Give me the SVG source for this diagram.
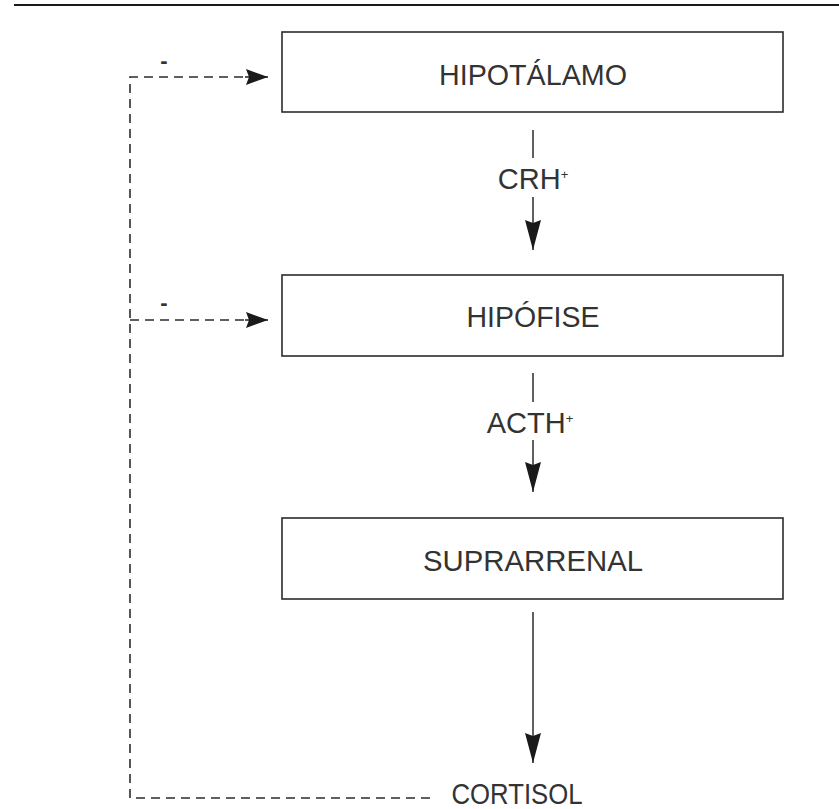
<svg xmlns="http://www.w3.org/2000/svg" width="839" height="809" viewBox="0 0 839 809">
  <style>
    .box { fill: #ffffff; stroke: #2b2b2b; stroke-width: 1.6; }
    .lbl { font-family: "Liberation Sans", Arial, sans-serif; font-size: 29px; fill: #333333; text-anchor: middle; }
    .sup { font-size: 13px; }
    .minus { font-family: "Liberation Sans", Arial, sans-serif; font-size: 22px; font-weight: bold; fill: #333333; text-anchor: middle; }
    .solid { fill: none; stroke: #2b2b2b; stroke-width: 1.5; }
    .dash { fill: none; stroke: #2b2b2b; stroke-width: 1.6; stroke-dasharray: 9 6; }
  </style>
  <defs>
    <marker id="arr" viewBox="0 0 30 16" refX="30" refY="8" markerWidth="30" markerHeight="16" markerUnits="userSpaceOnUse" orient="auto">
      <path d="M0,0 L30,8 L0,16 L3,8 Z" fill="#1a1a1a"/>
    </marker>
    <marker id="arrh" viewBox="0 0 22 16" refX="22" refY="8" markerWidth="22" markerHeight="16" markerUnits="userSpaceOnUse" orient="auto">
      <path d="M0,0 L22,8 L0,16 L3,8 Z" fill="#1a1a1a"/>
    </marker>
  </defs>
  <rect width="839" height="809" fill="#ffffff"/>
  <line x1="14" y1="5" x2="839" y2="5" stroke="#1a1a1a" stroke-width="2"/>

  <g id="hipotalamo">
    <rect class="box" x="282" y="32" width="501" height="80"/>
    <text class="lbl" x="533" y="85" textLength="188" lengthAdjust="spacingAndGlyphs">HIPOTÁLAMO</text>
  </g>
  <g id="hipofise">
    <rect class="box" x="282" y="275" width="501" height="81"/>
    <text class="lbl" x="533" y="327" textLength="133" lengthAdjust="spacingAndGlyphs">HIPÓFISE</text>
  </g>
  <g id="suprarrenal">
    <rect class="box" x="282" y="518" width="501" height="81"/>
    <text class="lbl" x="533" y="571" textLength="220" lengthAdjust="spacingAndGlyphs">SUPRARRENAL</text>
  </g>
  <g id="cortisol">
    <text class="lbl" x="517" y="804" textLength="131" lengthAdjust="spacingAndGlyphs">CORTISOL</text>
  </g>

  <g id="connectors">
    <line class="solid" x1="533" y1="130" x2="533" y2="158"/>
    <line class="solid" x1="533" y1="197" x2="533" y2="250" marker-end="url(#arr)"/>
    <text class="lbl" x="533" y="189">CRH<tspan class="sup" dy="-10">+</tspan></text>

    <line class="solid" x1="533" y1="373" x2="533" y2="402"/>
    <line class="solid" x1="533" y1="440" x2="533" y2="492" marker-end="url(#arr)"/>
    <text class="lbl" x="530" y="433">ACTH<tspan class="sup" dy="-10">+</tspan></text>

    <line class="solid" x1="533" y1="612" x2="533" y2="763" marker-end="url(#arr)"/>

    <path class="dash" d="M430,798 L130,798 L130,77 L250,77"/>
    <line x1="245" y1="77" x2="268" y2="77" stroke="#2b2b2b" stroke-width="1.6" marker-end="url(#arrh)"/>
    <path class="dash" d="M130,320 L250,320"/>
    <line x1="245" y1="320" x2="268" y2="320" stroke="#2b2b2b" stroke-width="1.6" marker-end="url(#arrh)"/>
    <text class="minus" x="164" y="68">-</text>
    <text class="minus" x="164" y="310">-</text>
  </g>
</svg>
